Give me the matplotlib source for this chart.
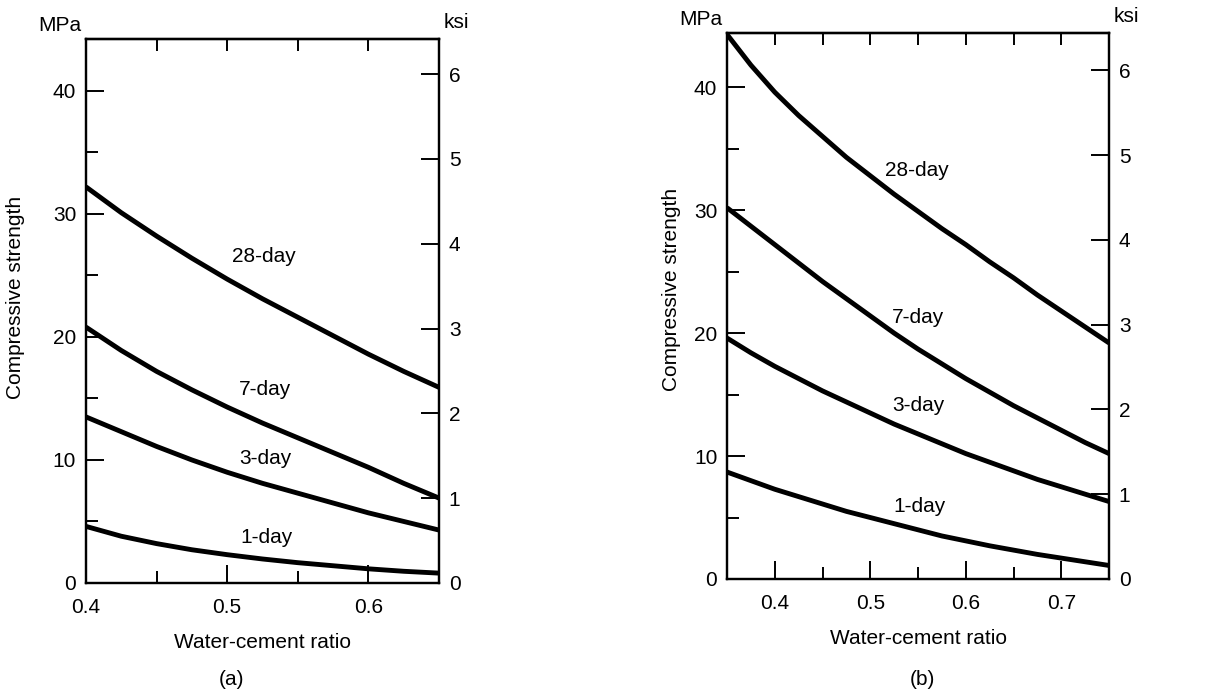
"""Compressive strength vs water-cement ratio, panels (a) and (b)."""

import matplotlib
matplotlib.use("Agg")
import matplotlib.pyplot as plt
from matplotlib.ticker import MultipleLocator

plt.rcParams["font.family"] = ["Liberation Sans", "DejaVu Sans"]

MPA_PER_KSI = 6.895

# ── panel (a) ────────────────────────────────────────────────────────────────
wc_a    = [0.400, 0.425, 0.450, 0.475, 0.500, 0.525, 0.550, 0.575, 0.600, 0.625, 0.650]
day28_a = [32.2, 30.1, 28.2, 26.4, 24.7, 23.1, 21.6, 20.1, 18.6, 17.2, 15.9]
day7_a  = [20.8, 18.9, 17.2, 15.7, 14.3, 13.0, 11.8, 10.6, 9.4, 8.1, 6.9]
day3_a  = [13.5, 12.3, 11.1, 10.0, 9.0, 8.1, 7.3, 6.5, 5.7, 5.0, 4.3]
day1_a  = [4.6, 3.8, 3.2, 2.7, 2.3, 1.95, 1.65, 1.4, 1.15, 0.95, 0.8]

# ── panel (b) ────────────────────────────────────────────────────────────────
wc_b    = [0.350, 0.375, 0.400, 0.425, 0.450, 0.475, 0.500, 0.525, 0.550,
           0.575, 0.600, 0.625, 0.650, 0.675, 0.700, 0.725, 0.750]
day28_b = [44.3, 41.8, 39.6, 37.7, 36.0, 34.3, 32.8, 31.3, 29.9,
           28.5, 27.2, 25.8, 24.5, 23.1, 21.8, 20.5, 19.2]
day7_b  = [30.2, 28.7, 27.2, 25.7, 24.2, 22.8, 21.4, 20.0, 18.7,
           17.5, 16.3, 15.2, 14.1, 13.1, 12.1, 11.1, 10.2]
day3_b  = [19.6, 18.4, 17.3, 16.3, 15.3, 14.4, 13.5, 12.6, 11.8,
           11.0, 10.2, 9.5, 8.8, 8.1, 7.5, 6.9, 6.3]
day1_b  = [8.7, 8.0, 7.3, 6.7, 6.1, 5.5, 5.0, 4.5, 4.0,
           3.5, 3.1, 2.7, 2.35, 2.0, 1.7, 1.4, 1.1]

curve_names = ["28-day", "7-day", "3-day", "1-day"]

FS = 15
LW_SPINE = 1.6


def _panel(fig, rect, wc, curves, xlim, ylim_top, xmajor, label_pos,
           ylabel_xy, tag, tag_x):
    ax = fig.add_axes(rect)
    for ys, name in zip(curves, curve_names):
        ax.plot(wc, ys, color="black", linewidth=3.5, solid_capstyle="butt",
                solid_joinstyle="round")
        lx, ly = label_pos[name]
        ax.text(lx, ly, name, fontsize=FS, ha="center", va="center")

    ax.set_xlim(*xlim)
    ax.set_ylim(0, ylim_top)
    ax.xaxis.set_minor_locator(MultipleLocator(0.05))
    ax.set_xticks(xmajor)
    ax.set_xticklabels([f"{v:.1f}" for v in xmajor])
    ax.yaxis.set_major_locator(MultipleLocator(10))
    ax.yaxis.set_minor_locator(MultipleLocator(5))

    ax.tick_params(which="both", direction="in", width=1.4, labelsize=FS,
                   right=False, top=False)
    ax.tick_params(which="major", length=13)
    ax.tick_params(which="minor", length=8.5)
    ax.tick_params(axis="x", which="major", pad=11)
    ax.tick_params(axis="y", which="major", pad=7)
    for sp in ax.spines.values():
        sp.set_linewidth(LW_SPINE)

    ax.set_xlabel("Water-cement ratio", fontsize=FS, labelpad=11)
    ax.set_ylabel("Compressive strength", fontsize=FS)
    ax.yaxis.set_label_coords(*ylabel_xy)

    # top ticks, no labels
    top = ax.secondary_xaxis("top")
    top.xaxis.set_major_locator(MultipleLocator(0.05))
    top.tick_params(direction="in", length=8.5, width=1.4, labeltop=False)
    top.spines["top"].set_linewidth(LW_SPINE)

    # ksi axis on the right
    rax = ax.twinx()
    rax.set_ylim(0, ylim_top / MPA_PER_KSI)
    rax.yaxis.set_major_locator(MultipleLocator(1))
    rax.tick_params(direction="in", length=13, width=1.4, labelsize=FS, pad=7)
    for sp in rax.spines.values():
        sp.set_linewidth(LW_SPINE)

    # unit captions and panel tag
    fig.text(rect[0] - 0.021, rect[1] + rect[3] + 0.019, "MPa", fontsize=FS,
             ha="center", va="center")
    fig.text(rect[0] + rect[2] + 0.014, rect[1] + rect[3] + 0.024, "ksi",
             fontsize=FS, ha="center", va="center")
    fig.text(tag_x, 0.026, tag, fontsize=FS, ha="center", va="center")
    return ax


def main():
    fig = plt.figure(figsize=(12.26, 6.98), dpi=100)

    _panel(
        fig, [0.0701, 0.1648, 0.288, 0.779],
        wc_a, [day28_a, day7_a, day3_a, day1_a],
        xlim=(0.40, 0.65), ylim_top=44.2, xmajor=[0.4, 0.5, 0.6],
        label_pos={"28-day": (0.526, 26.5), "7-day": (0.527, 15.7),
                   "3-day": (0.527, 10.1), "1-day": (0.528, 3.7)},
        ylabel_xy=(-0.173, 0.526),
        tag="(a)", tag_x=231 / 1226,
    )
    _panel(
        fig, [0.593, 0.1705, 0.3116, 0.782],
        wc_b, [day28_b, day7_b, day3_b, day1_b],
        xlim=(0.35, 0.75), ylim_top=44.4, xmajor=[0.4, 0.5, 0.6, 0.7],
        label_pos={"28-day": (0.549, 33.2), "7-day": (0.550, 21.3),
                   "3-day": (0.550, 14.1), "1-day": (0.552, 5.9)},
        ylabel_xy=(-0.120, 0.53),
        tag="(b)", tag_x=922 / 1226,
    )

    fig.savefig("out.png", dpi=100)
    plt.close(fig)


if __name__ == "__main__":
    main()
